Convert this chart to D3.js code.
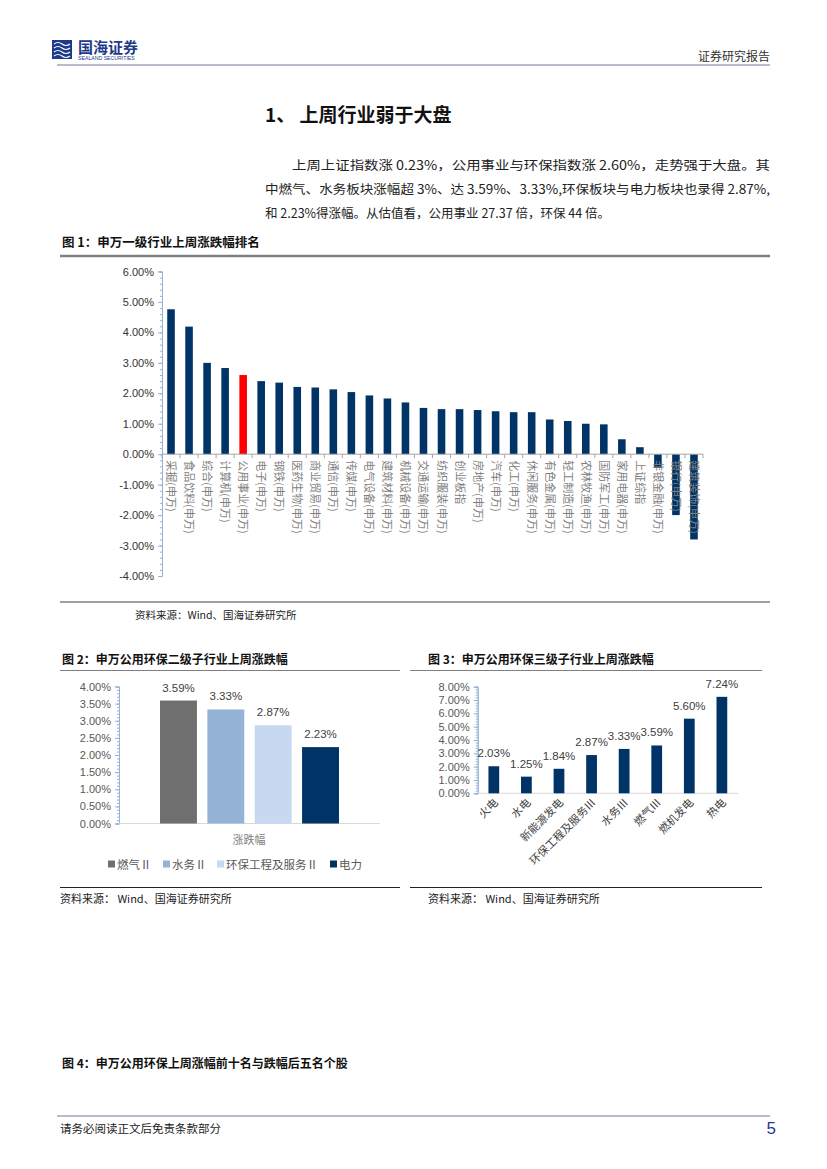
<!DOCTYPE html>
<html>
<head>
<meta charset="utf-8">
<script src="https://cdn.jsdelivr.net/npm/d3@7"></script>
<style>
  body { margin: 0; background: #fff; }
  svg { display: block; }
  text { font-family: "Noto Sans CJK SC", "Noto Sans", sans-serif; }
  .num { font-family: "Liberation Sans", Arial, sans-serif; }
</style>
</head>
<body>
<div id="page"></div>
<script>
// 图1 数据
const industries = ["采掘(申万)", "食品饮料(申万)", "综合(申万)", "计算机(申万)", "公用事业(申万)", "电子(申万)",
  "钢铁(申万)", "医药生物(申万)", "商业贸易(申万)", "通信(申万)", "传媒(申万)", "电气设备(申万)",
  "建筑材料(申万)", "机械设备(申万)", "交通运输(申万)", "纺织服装(申万)", "创业板指", "房地产(申万)",
  "汽车(申万)", "化工(申万)", "休闲服务(申万)", "有色金属(申万)", "轻工制造(申万)", "农林牧渔(申万)",
  "国防军工(申万)", "家用电器(申万)", "上证综指", "非银金融(申万)", "银行(申万)", "建筑装饰(申万)"];
const industryChange = [4.76, 4.19, 3.00, 2.83, 2.60, 2.40, 2.35, 2.21, 2.19, 2.13, 2.04, 1.93,
  1.83, 1.70, 1.52, 1.48, 1.48, 1.45, 1.41, 1.38, 1.38, 1.14, 1.09, 1.00,
  0.98, 0.49, 0.23, -0.45, -2.00, -2.80];
const fig1Ticks = [6, 5, 4, 3, 2, 1, 0, -1, -2, -3, -4];

// 图2 数据
const level2Names = ["燃气Ⅱ", "水务Ⅱ", "环保工程及服务Ⅱ", "电力"];
const level2Change = [3.59, 3.33, 2.87, 2.23];
const level2Colors = ["#6f6f6f", "#95b3d7", "#c6d9f1", "#003366"];
const fig2Ticks = [0, 0.5, 1, 1.5, 2, 2.5, 3, 3.5, 4];

// 图3 数据
const level3Names = ["火电", "水电", "新能源发电", "环保工程及服务Ⅲ", "水务Ⅲ", "燃气Ⅲ", "燃机发电", "热电"];
const level3Change = [2.03, 1.25, 1.84, 2.87, 3.33, 3.59, 5.60, 7.24];
const fig3Ticks = [0, 1, 2, 3, 4, 5, 6, 7, 8];

const navy = "#003366";
const pct = v => v.toFixed(2) + "%";

const svg = d3.select("#page").append("svg")
  .attr("width", 827).attr("height", 1169)
  .attr("viewBox", "0 0 827 1169");

// ---- 页眉 ----
const logo = svg.append("g").attr("transform", "translate(52,40)");
logo.append("rect").attr("width", 20).attr("height", 19).attr("fill", "#1f3a8a");
[4, 8, 12, 16].forEach(y => {
  logo.append("path").attr("d", `M2,${y} q4,-3 8,0 t8,0`).attr("fill", "none")
    .attr("stroke", "#fff").attr("stroke-width", 1.2);
});
logo.append("text").attr("x", 26).attr("y", 13).attr("font-size", 15).attr("font-weight", "bold")
  .attr("fill", "#1f3a8a").text("国海证券");
logo.append("text").attr("x", 26).attr("y", 20).attr("font-size", 5.2).attr("fill", "#1f3a8a")
  .attr("class", "num").text("SEALAND SECURITIES");
svg.append("text").attr("x", 770).attr("y", 61).attr("text-anchor", "end")
  .attr("font-size", 12).attr("fill", "#333").text("证券研究报告");
svg.append("line").attr("x1", 57).attr("x2", 770).attr("y1", 65).attr("y2", 65)
  .attr("stroke", "#b9b9cf").attr("stroke-width", 2);

// ---- 标题与正文 ----
svg.append("text").attr("x", 265).attr("y", 122).attr("font-size", 19).attr("font-weight", "bold")
  .attr("fill", "#111").text("1、 上周行业弱于大盘");
const para = [
  { x: 292, t: "上周上证指数涨 0.23%，公用事业与环保指数涨 2.60%，走势强于大盘。其" },
  { x: 265, t: "中燃气、水务板块涨幅超 3%、达 3.59%、3.33%,环保板块与电力板块也录得 2.87%," },
  { x: 265, t: "和 2.23%得涨幅。从估值看，公用事业 27.37 倍，环保 44 倍。" }
];
para.forEach((p, i) => {
  const t = svg.append("text").attr("x", p.x).attr("y", 170 + i * 24).attr("font-size", 12.5)
    .attr("fill", "#222").text(p.t);
  if (i < 2) t.attr("textLength", 770 - p.x).attr("lengthAdjust", "spacingAndGlyphs");
});

// ---- 图1 ----
svg.append("text").attr("x", 62).attr("y", 247).attr("font-size", 12.5).attr("font-weight", "bold")
  .attr("fill", "#111").text("图 1：申万一级行业上周涨跌幅排名");
svg.append("line").attr("x1", 60).attr("x2", 770).attr("y1", 256).attr("y2", 256)
  .attr("stroke", "#7f7f7f").attr("stroke-width", 2.5);

const x1 = d3.scaleBand().domain(industries).range([162, 703]).paddingInner(0.58).paddingOuter(0.29);
const y1 = d3.scaleLinear().domain([-4, 6]).range([576, 271.5]);

const g1 = svg.append("g");
// y 轴（含次刻度）
const y1Axis = g1.append("g").attr("transform", "translate(162,0)")
  .call(d3.axisLeft(y1).tickValues(fig1Ticks).tickFormat(pct).tickSize(4));
y1Axis.append("g").call(d3.axisLeft(y1).ticks(50).tickFormat("").tickSize(2));
y1Axis.selectAll("path,line").attr("stroke", "#95b3d7");
y1Axis.selectAll(".domain").attr("stroke", "#95b3d7");
y1Axis.selectAll("text").attr("class", "num").attr("font-size", 11).attr("fill", "#333").attr("dx", -1);

g1.selectAll(".bar1").data(industries).join("rect")
  .attr("x", d => x1(d))
  .attr("width", x1.bandwidth())
  .attr("y", (d, i) => y1(Math.max(0, industryChange[i])))
  .attr("height", (d, i) => Math.abs(y1(industryChange[i]) - y1(0)))
  .attr("fill", d => d === "公用事业(申万)" ? "#ff0000" : navy);

// x 轴在零线
g1.append("line").attr("x1", 162).attr("x2", 703).attr("y1", y1(0)).attr("y2", y1(0))
  .attr("stroke", "#a6a6a6");
const step1 = x1.step();
g1.selectAll(".xt1").data(d3.range(industries.length + 1)).join("line")
  .attr("x1", i => 162 + i * step1).attr("x2", i => 162 + i * step1)
  .attr("y1", y1(0)).attr("y2", y1(0) + 4).attr("stroke", "#a6a6a6");
g1.selectAll(".xl1").data(industries).join("text")
  .attr("transform", d => `translate(${x1(d) + x1.bandwidth() / 2 - 4},${y1(0) + 6}) rotate(90)`)
  .attr("font-size", 11).attr("fill", "#7f7f7f").text(d => d);

svg.append("line").attr("x1", 60).attr("x2", 770).attr("y1", 602).attr("y2", 602)
  .attr("stroke", "#404040").attr("stroke-width", 1);
svg.append("text").attr("x", 135).attr("y", 619).attr("font-size", 10.5).attr("fill", "#222")
  .text("资料来源：Wind、国海证券研究所");

// ---- 图2 ----
svg.append("text").attr("x", 62).attr("y", 664).attr("font-size", 12).attr("font-weight", "bold")
  .attr("fill", "#111").text("图 2：申万公用环保二级子行业上周涨跌幅");
svg.append("line").attr("x1", 60).attr("x2", 400).attr("y1", 670.5).attr("y2", 670.5)
  .attr("stroke", "#7f7f7f").attr("stroke-width", 1);

const y2 = d3.scaleLinear().domain([0, 4]).range([823.5, 686.5]);
const x2 = d3.scaleBand().domain(level2Names).range([160, 339]).paddingInner(0.22);
const g2 = svg.append("g");
const y2Axis = g2.append("g").attr("transform", "translate(119,0)")
  .call(d3.axisLeft(y2).tickValues(fig2Ticks).tickFormat(pct).tickSize(4));
y2Axis.append("g").call(d3.axisLeft(y2).ticks(40).tickFormat("").tickSize(2));
y2Axis.selectAll("path,line").attr("stroke", "#95b3d7");
y2Axis.selectAll("text").attr("class", "num").attr("font-size", 11).attr("fill", "#595959").attr("dx", -1);
g2.append("line").attr("x1", 119).attr("x2", 380).attr("y1", y2(0)).attr("y2", y2(0))
  .attr("stroke", "#d9d9d9");

g2.selectAll(".bar2").data(level2Names).join("rect")
  .attr("x", d => x2(d)).attr("width", x2.bandwidth())
  .attr("y", (d, i) => y2(level2Change[i]))
  .attr("height", (d, i) => y2(0) - y2(level2Change[i]))
  .attr("fill", (d, i) => level2Colors[i]);
g2.selectAll(".lab2").data(level2Names).join("text")
  .attr("class", "num")
  .attr("x", d => x2(d) + x2.bandwidth() / 2)
  .attr("y", (d, i) => y2(level2Change[i]) - 9)
  .attr("text-anchor", "middle").attr("font-size", 11.5).attr("fill", "#404040")
  .text((d, i) => pct(level2Change[i]));
g2.append("text").attr("x", 249).attr("y", 844).attr("text-anchor", "middle")
  .attr("font-size", 11).attr("fill", "#7f7f7f").text("涨跌幅");

// 图例
const legendX = [108, 163, 217, 330];
const leg = g2.selectAll(".leg").data(level2Names).join("g")
  .attr("transform", (d, i) => `translate(${legendX[i]},864)`);
leg.append("rect").attr("x", 0).attr("y", -3.5).attr("width", 7).attr("height", 7)
  .attr("fill", (d, i) => level2Colors[i]);
leg.append("text").attr("x", 9).attr("y", 4.5).attr("font-size", 11.5).attr("fill", "#595959")
  .text(d => d);

svg.append("line").attr("x1", 60).attr("x2", 400).attr("y1", 887.5).attr("y2", 887.5)
  .attr("stroke", "#222").attr("stroke-width", 1);
svg.append("text").attr("x", 60).attr("y", 903).attr("font-size", 11).attr("fill", "#222")
  .text("资料来源：    Wind、国海证券研究所");

// ---- 图3 ----
svg.append("text").attr("x", 428).attr("y", 664).attr("font-size", 12).attr("font-weight", "bold")
  .attr("fill", "#111").text("图 3：申万公用环保三级子行业上周涨跌幅");
svg.append("line").attr("x1", 410).attr("x2", 762).attr("y1", 670.5).attr("y2", 670.5)
  .attr("stroke", "#7f7f7f").attr("stroke-width", 1);

const y3 = d3.scaleLinear().domain([0, 8]).range([793.3, 686.7]);
const x3 = d3.scaleBand().domain(level3Names).range([477.7, 738]).paddingInner(0.67).paddingOuter(0.33);
const g3 = svg.append("g");
const y3Axis = g3.append("g").attr("transform", "translate(477.7,0)")
  .call(d3.axisLeft(y3).tickValues(fig3Ticks).tickFormat(pct).tickSize(4));
y3Axis.append("g").call(d3.axisLeft(y3).ticks(40).tickFormat("").tickSize(2));
y3Axis.selectAll("path,line").attr("stroke", "#95b3d7");
y3Axis.selectAll("text").attr("class", "num").attr("font-size", 11).attr("fill", "#595959").attr("dx", -1);
g3.append("line").attr("x1", 477.7).attr("x2", 738).attr("y1", y3(0)).attr("y2", y3(0))
  .attr("stroke", "#d9d9d9");

g3.selectAll(".bar3").data(level3Names).join("rect")
  .attr("x", d => x3(d)).attr("width", x3.bandwidth())
  .attr("y", (d, i) => y3(level3Change[i]))
  .attr("height", (d, i) => y3(0) - y3(level3Change[i]))
  .attr("fill", navy);
g3.selectAll(".lab3").data(level3Names).join("text")
  .attr("class", "num")
  .attr("x", d => x3(d) + x3.bandwidth() / 2)
  .attr("y", (d, i) => y3(level3Change[i]) - 9)
  .attr("text-anchor", "middle").attr("font-size", 11.5).attr("fill", "#404040")
  .text((d, i) => pct(level3Change[i]));
g3.selectAll(".xl3").data(level3Names).join("text")
  .attr("transform", d => `translate(${x3(d) + x3.bandwidth() / 2 + 5},${y3(0) + 10}) rotate(-45)`)
  .attr("text-anchor", "end").attr("font-size", 11).attr("fill", "#404040").text(d => d);

svg.append("line").attr("x1", 410).attr("x2", 762).attr("y1", 887.5).attr("y2", 887.5)
  .attr("stroke", "#222").attr("stroke-width", 1);
svg.append("text").attr("x", 428).attr("y", 903).attr("font-size", 11).attr("fill", "#222")
  .text("资料来源：    Wind、国海证券研究所");

// ---- 图4 标题 ----
svg.append("text").attr("x", 62).attr("y", 1068).attr("font-size", 12).attr("font-weight", "bold")
  .attr("fill", "#111").text("图 4：申万公用环保上周涨幅前十名与跌幅后五名个股");

// ---- 页脚 ----
svg.append("line").attr("x1", 57).attr("x2", 770).attr("y1", 1116).attr("y2", 1116)
  .attr("stroke", "#b9b9cf").attr("stroke-width", 2);
svg.append("text").attr("x", 60).attr("y", 1133).attr("font-size", 11.5).attr("fill", "#222")
  .text("请务必阅读正文后免责条款部分");
svg.append("text").attr("x", 776).attr("y", 1134).attr("text-anchor", "end").attr("class", "num")
  .attr("font-size", 17).attr("fill", "#1f3a8a").text("5");
</script>
</body>
</html>
